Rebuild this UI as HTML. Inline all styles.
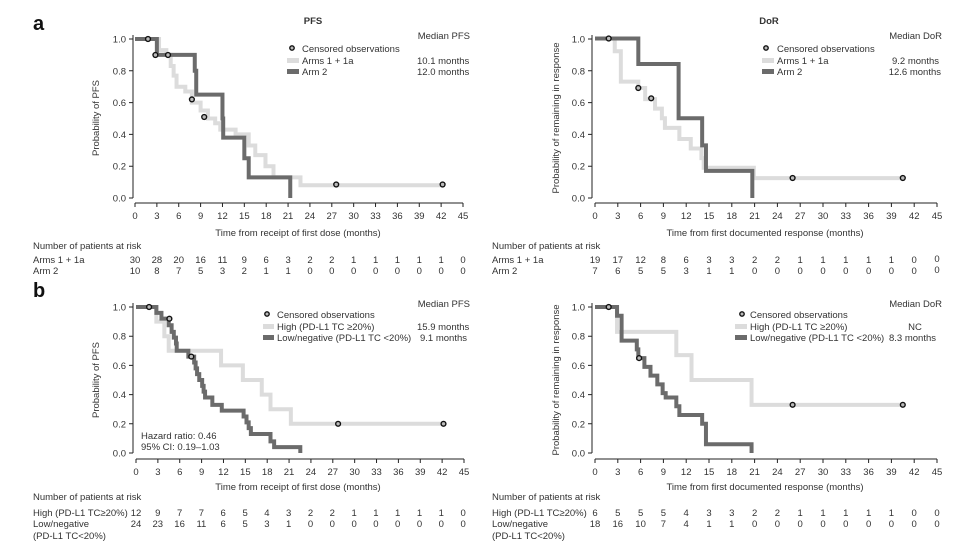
<!DOCTYPE html>
<html><head><meta charset="utf-8"><style>
html,body{margin:0;padding:0;background:#fff}
svg{display:block}
text{font-family:"Liberation Sans",sans-serif;font-size:9.5px;fill:#333}
.m{text-anchor:middle}.e{text-anchor:end}
.lt{fill:none;stroke:#dcdcdc;stroke-width:4}
.dk{fill:none;stroke:#6b6b6b;stroke-width:4}
.ax{stroke:#222;stroke-width:1;fill:none}
.c{fill:#bbb;stroke:#111;stroke-width:1.4}
</style></head><body>
<svg width="975" height="545" viewBox="0 0 975 545">
<defs>
<g id="xt">
<path class="ax" d="M0 0H328M0 0v4M21.87 0v4M43.73 0v4M65.6 0v4M87.47 0v4M109.33 0v4M131.2 0v4M153.07 0v4M174.93 0v4M196.8 0v4M218.67 0v4M240.53 0v4M262.4 0v4M284.27 0v4M306.13 0v4M328 0v4"/>
<text class="m" x="0" y="16">0</text><text class="m" x="21.87" y="16">3</text><text class="m" x="43.73" y="16">6</text><text class="m" x="65.6" y="16">9</text><text class="m" x="87.47" y="16">12</text><text class="m" x="109.33" y="16">15</text><text class="m" x="131.2" y="16">18</text><text class="m" x="153.07" y="16">21</text><text class="m" x="174.93" y="16">24</text><text class="m" x="196.8" y="16">27</text><text class="m" x="218.67" y="16">30</text><text class="m" x="240.53" y="16">33</text><text class="m" x="262.4" y="16">36</text><text class="m" x="284.27" y="16">39</text><text class="m" x="306.13" y="16">42</text><text class="m" x="328" y="16">45</text>
</g>
<g id="xtr">
<path class="ax" d="M0 0H342M0 0v4M22.8 0v4M45.6 0v4M68.4 0v4M91.2 0v4M114 0v4M136.8 0v4M159.6 0v4M182.4 0v4M205.2 0v4M228 0v4M250.8 0v4M273.6 0v4M296.4 0v4M319.2 0v4M342 0v4"/>
<text class="m" x="0" y="16">0</text><text class="m" x="22.8" y="16">3</text><text class="m" x="45.6" y="16">6</text><text class="m" x="68.4" y="16">9</text><text class="m" x="91.2" y="16">12</text><text class="m" x="114" y="16">15</text><text class="m" x="136.8" y="16">18</text><text class="m" x="159.6" y="16">21</text><text class="m" x="182.4" y="16">24</text><text class="m" x="205.2" y="16">27</text><text class="m" x="228" y="16">30</text><text class="m" x="250.8" y="16">33</text><text class="m" x="273.6" y="16">36</text><text class="m" x="296.4" y="16">39</text><text class="m" x="319.2" y="16">42</text><text class="m" x="342" y="16">45</text>
</g>
<g id="yt1">
<path class="ax" d="M0 0V-163M0 0h-4M0 -31.8h-4M0 -63.6h-4M0 -95.4h-4M0 -127.2h-4M0 -159h-4"/>
<text class="e" x="-7" y="3.5">0.0</text><text class="e" x="-7" y="-28.3">0.2</text><text class="e" x="-7" y="-60.1">0.4</text><text class="e" x="-7" y="-91.9">0.6</text><text class="e" x="-7" y="-123.7">0.8</text><text class="e" x="-7" y="-155.5">1.0</text>
</g>
<g id="yt2">
<path class="ax" d="M0 0V-150M0 0h-4M0 -29.2h-4M0 -58.4h-4M0 -87.6h-4M0 -116.8h-4M0 -146h-4"/>
<text class="e" x="-7" y="3.5">0.0</text><text class="e" x="-7" y="-25.7">0.2</text><text class="e" x="-7" y="-54.9">0.4</text><text class="e" x="-7" y="-84.1">0.6</text><text class="e" x="-7" y="-113.3">0.8</text><text class="e" x="-7" y="-142.5">1.0</text>
</g>
</defs>

<text x="33" y="30" style="font-size:20px;font-weight:bold;fill:#111">a</text>
<text x="33" y="297" style="font-size:20px;font-weight:bold;fill:#111">b</text>

<!-- TL -->
<text class="m" x="313" y="24" style="font-weight:bold">PFS</text>
<use href="#yt1" x="133" y="198"/>
<use href="#xt" x="135" y="203"/>
<text class="m" x="298" y="236">Time from receipt of first dose (months)</text>
<text class="m" transform="translate(99,118) rotate(-90)">Probability of PFS</text>
<g transform="translate(135,198) scale(7.289,-159)">
<path class="lt" vector-effect="non-scaling-stroke" d="M0 1H3.3V0.93H4.3V0.9H4.9V0.83H5.3V0.77H5.7V0.7H6.9V0.67H7.8V0.6H9V0.55H10V0.5H11V0.47H11.7V0.43H13.8V0.4H15.6V0.33H16.5V0.27H17.9V0.2H19V0.13H22.7V0.08H42.2"/>
<path class="dk" vector-effect="non-scaling-stroke" d="M0 1H3V0.9H8.2V0.8H8.4V0.65H12V0.5H12.1V0.38H15V0.25H15.6V0.13H21.3V0"/>
</g>
<circle class="c" cx="148" cy="39" r="2.4"/><circle class="c" cx="155.4" cy="55" r="2.4"/><circle class="c" cx="168" cy="55" r="2.4"/><circle class="c" cx="191.9" cy="99.4" r="2.4"/><circle class="c" cx="204.2" cy="117" r="2.4"/><circle class="c" cx="336.2" cy="184.5" r="2.4"/><circle class="c" cx="442.6" cy="184.5" r="2.4"/>
<text class="e" x="470" y="39">Median PFS</text>
<circle class="c" cx="292" cy="48" r="2.2"/><text x="302" y="52">Censored observations</text>
<rect x="287" y="58" width="12" height="5" fill="#dcdcdc"/><text x="302" y="64">Arms 1 + 1a</text>
<rect x="287" y="69" width="12" height="5" fill="#6b6b6b"/><text x="302" y="75">Arm 2</text>
<text x="417" y="64">10.1 months</text><text x="417" y="75">12.0 months</text>

<!-- TR -->
<text class="m" x="769" y="24" style="font-weight:bold">DoR</text>
<use href="#yt1" x="592" y="198"/>
<use href="#xtr" x="595" y="203"/>
<text class="m" x="765" y="236">Time from first documented response (months)</text>
<text class="m" transform="translate(559,118) rotate(-90)">Probability of remaining in response</text>
<g transform="translate(595,198) scale(7.6,-159.5)">
<path class="lt" vector-effect="non-scaling-stroke" d="M0 1H2.6V0.92H3.4V0.73H5.7V0.69H6.6V0.62H7.9V0.56H8.8V0.5H9.2V0.44H11.1V0.37H12.6V0.31H14V0.25H14.3V0.19H20.9V0.125H40.5"/>
<path class="dk" vector-effect="non-scaling-stroke" d="M0 1H5.7V0.84H11V0.5H14.1V0.33H14.6V0.17H20.7V0"/>
</g>
<circle class="c" cx="608.7" cy="38.5" r="2.4"/><circle class="c" cx="638.3" cy="88" r="2.4"/><circle class="c" cx="651.2" cy="98.3" r="2.4"/><circle class="c" cx="792.6" cy="178" r="2.4"/><circle class="c" cx="902.8" cy="178" r="2.4"/>
<text class="e" x="942" y="39">Median DoR</text>
<circle class="c" cx="766" cy="48" r="2.2"/><text x="777" y="52">Censored observations</text>
<rect x="762" y="58" width="12" height="5" fill="#dcdcdc"/><text x="777" y="64">Arms 1 + 1a</text>
<rect x="762" y="69" width="12" height="5" fill="#6b6b6b"/><text x="777" y="75">Arm 2</text>
<text class="e" x="939" y="64">9.2 months</text><text class="e" x="941" y="75">12.6 months</text>

<!-- BL -->
<use href="#yt2" x="133" y="453"/>
<use href="#xt" x="136" y="459"/>
<text class="m" x="298" y="490">Time from receipt of first dose (months)</text>
<text class="m" transform="translate(99,380) rotate(-90)">Probability of PFS</text>
<g transform="translate(136,453) scale(7.27,-146)">
<path class="lt" vector-effect="non-scaling-stroke" d="M0 1H2.8V0.9H3.9V0.8H4.5V0.7H11.7V0.6H14.7V0.5H17.3V0.4H18.5V0.3H21.3V0.2H42.3"/>
<path class="dk" vector-effect="non-scaling-stroke" d="M0 1H2.8V0.96H3.5V0.92H4.5V0.875H4.9V0.83H5.2V0.79H5.5V0.75H5.6V0.7H7.2V0.66H8V0.62H8.2V0.58H8.4V0.54H8.7V0.5H9.1V0.46H9.3V0.42H9.5V0.38H10.5V0.33H11.8V0.29H14.8V0.25H15.2V0.21H15.5V0.17H15.8V0.13H18.5V0.08H19V0.04H22.6V0"/>
</g>
<circle class="c" cx="149.1" cy="307" r="2.4"/><circle class="c" cx="169.4" cy="318.7" r="2.4"/><circle class="c" cx="191.3" cy="356.6" r="2.4"/><circle class="c" cx="338.1" cy="423.8" r="2.4"/><circle class="c" cx="443.5" cy="423.8" r="2.4"/>
<text class="e" x="470" y="307">Median PFS</text>
<circle class="c" cx="267" cy="314" r="2.2"/><text x="277" y="318">Censored observations</text>
<rect x="263" y="324" width="11" height="5" fill="#dcdcdc"/><text x="277" y="330">High (PD-L1 TC ≥20%)</text>
<rect x="263" y="335" width="11" height="5" fill="#6b6b6b"/><text x="277" y="341">Low/negative (PD-L1 TC &lt;20%)</text>
<text x="417" y="330">15.9 months</text><text x="420" y="341">9.1 months</text>
<text x="141" y="439">Hazard ratio: 0.46</text><text x="141" y="450">95% CI: 0.19–1.03</text>

<!-- BR -->
<use href="#yt2" x="592" y="453"/>
<use href="#xtr" x="595" y="459"/>
<text class="m" x="765" y="490">Time from first documented response (months)</text>
<text class="m" transform="translate(559,380) rotate(-90)">Probability of remaining in response</text>
<g transform="translate(595,453) scale(7.6,-146)">
<path class="lt" vector-effect="non-scaling-stroke" d="M0 1H2.9V0.83H10.7V0.67H12.7V0.5H20.6V0.33H40.5"/>
<path class="dk" vector-effect="non-scaling-stroke" d="M0 1H2.9V0.94H3.5V0.77H5.5V0.71H5.7V0.65H6.5V0.59H7.3V0.53H8.2V0.47H8.9V0.41H9.3V0.38H10.7V0.32H11.1V0.26H14.1V0.2H14.6V0.06H20.6V0"/>
</g>
<circle class="c" cx="608.7" cy="307" r="2.4"/><circle class="c" cx="639.1" cy="358.1" r="2.4"/><circle class="c" cx="792.6" cy="404.8" r="2.4"/><circle class="c" cx="902.8" cy="404.8" r="2.4"/>
<text class="e" x="942" y="307">Median DoR</text>
<circle class="c" cx="742" cy="314" r="2.2"/><text x="750" y="318">Censored observations</text>
<rect x="735" y="324" width="12" height="5" fill="#dcdcdc"/><text x="750" y="330">High (PD-L1 TC ≥20%)</text>
<rect x="735" y="335" width="12" height="5" fill="#6b6b6b"/><text x="750" y="341">Low/negative (PD-L1 TC &lt;20%)</text>
<text class="m" x="915" y="330">NC</text><text x="889" y="341">8.3 months</text>

<!-- risk tables -->
<g>
<text x="33" y="249">Number of patients at risk</text>
<text x="33" y="263">Arms 1 + 1a</text><text x="33" y="274">Arm 2</text>
<text x="492" y="249">Number of patients at risk</text>
<text x="492" y="263">Arms 1 + 1a</text><text x="492" y="274">Arm 2</text>
<text x="33" y="500">Number of patients at risk</text>
<text x="33" y="516">High (PD-L1 TC≥20%)</text><text x="33" y="527">Low/negative</text><text x="33" y="539">(PD-L1 TC&lt;20%)</text>
<text x="492" y="500">Number of patients at risk</text>
<text x="492" y="516">High (PD-L1 TC≥20%)</text><text x="492" y="527">Low/negative</text><text x="492" y="539">(PD-L1 TC&lt;20%)</text>
</g>
<g class="m" style="text-anchor:middle">
<!-- TL row1 -->
<text x="135" y="263" class="m">30</text><text x="156.9" y="263" class="m">28</text><text x="178.7" y="263" class="m">20</text><text x="200.6" y="263" class="m">16</text><text x="222.5" y="263" class="m">11</text><text x="244.3" y="263" class="m">9</text><text x="266.2" y="263" class="m">6</text><text x="288.1" y="263" class="m">3</text><text x="310" y="263" class="m">2</text><text x="331.8" y="263" class="m">2</text><text x="353.7" y="263" class="m">1</text><text x="375.6" y="263" class="m">1</text><text x="397.4" y="263" class="m">1</text><text x="419.3" y="263" class="m">1</text><text x="441.2" y="263" class="m">1</text><text x="463" y="263" class="m">0</text>
<text x="135" y="274" class="m">10</text><text x="156.9" y="274" class="m">8</text><text x="178.7" y="274" class="m">7</text><text x="200.6" y="274" class="m">5</text><text x="222.5" y="274" class="m">3</text><text x="244.3" y="274" class="m">2</text><text x="266.2" y="274" class="m">1</text><text x="288.1" y="274" class="m">1</text><text x="310" y="274" class="m">0</text><text x="331.8" y="274" class="m">0</text><text x="353.7" y="274" class="m">0</text><text x="375.6" y="274" class="m">0</text><text x="397.4" y="274" class="m">0</text><text x="419.3" y="274" class="m">0</text><text x="441.2" y="274" class="m">0</text><text x="463" y="274" class="m">0</text>
<!-- TR -->
<text x="595" y="263" class="m">19</text><text x="617.8" y="263" class="m">17</text><text x="640.6" y="263" class="m">12</text><text x="663.4" y="263" class="m">8</text><text x="686.2" y="263" class="m">6</text><text x="709" y="263" class="m">3</text><text x="731.8" y="263" class="m">3</text><text x="754.6" y="263" class="m">2</text><text x="777.4" y="263" class="m">2</text><text x="800.2" y="263" class="m">1</text><text x="823" y="263" class="m">1</text><text x="845.8" y="263" class="m">1</text><text x="868.6" y="263" class="m">1</text><text x="891.4" y="263" class="m">1</text><text x="914.2" y="263" class="m">0</text><text x="937" y="262" class="m">0</text>
<text x="595" y="274" class="m">7</text><text x="617.8" y="274" class="m">6</text><text x="640.6" y="274" class="m">5</text><text x="663.4" y="274" class="m">5</text><text x="686.2" y="274" class="m">3</text><text x="709" y="274" class="m">1</text><text x="731.8" y="274" class="m">1</text><text x="754.6" y="274" class="m">0</text><text x="777.4" y="274" class="m">0</text><text x="800.2" y="274" class="m">0</text><text x="823" y="274" class="m">0</text><text x="845.8" y="274" class="m">0</text><text x="868.6" y="274" class="m">0</text><text x="891.4" y="274" class="m">0</text><text x="914.2" y="274" class="m">0</text><text x="937" y="273" class="m">0</text>
<!-- BL -->
<text x="136" y="516" class="m">12</text><text x="157.8" y="516" class="m">9</text><text x="179.6" y="516" class="m">7</text><text x="201.4" y="516" class="m">7</text><text x="223.2" y="516" class="m">6</text><text x="245.1" y="516" class="m">5</text><text x="266.9" y="516" class="m">4</text><text x="288.7" y="516" class="m">3</text><text x="310.5" y="516" class="m">2</text><text x="332.3" y="516" class="m">2</text><text x="354.1" y="516" class="m">1</text><text x="375.9" y="516" class="m">1</text><text x="397.7" y="516" class="m">1</text><text x="419.5" y="516" class="m">1</text><text x="441.3" y="516" class="m">1</text><text x="463.2" y="516" class="m">0</text>
<text x="136" y="527" class="m">24</text><text x="157.8" y="527" class="m">23</text><text x="179.6" y="527" class="m">16</text><text x="201.4" y="527" class="m">11</text><text x="223.2" y="527" class="m">6</text><text x="245.1" y="527" class="m">5</text><text x="266.9" y="527" class="m">3</text><text x="288.7" y="527" class="m">1</text><text x="310.5" y="527" class="m">0</text><text x="332.3" y="527" class="m">0</text><text x="354.1" y="527" class="m">0</text><text x="375.9" y="527" class="m">0</text><text x="397.7" y="527" class="m">0</text><text x="419.5" y="527" class="m">0</text><text x="441.3" y="527" class="m">0</text><text x="463.2" y="527" class="m">0</text>
<!-- BR -->
<text x="595" y="516" class="m">6</text><text x="617.8" y="516" class="m">5</text><text x="640.6" y="516" class="m">5</text><text x="663.4" y="516" class="m">5</text><text x="686.2" y="516" class="m">4</text><text x="709" y="516" class="m">3</text><text x="731.8" y="516" class="m">3</text><text x="754.6" y="516" class="m">2</text><text x="777.4" y="516" class="m">2</text><text x="800.2" y="516" class="m">1</text><text x="823" y="516" class="m">1</text><text x="845.8" y="516" class="m">1</text><text x="868.6" y="516" class="m">1</text><text x="891.4" y="516" class="m">1</text><text x="914.2" y="516" class="m">0</text><text x="937" y="516" class="m">0</text>
<text x="595" y="527" class="m">18</text><text x="617.8" y="527" class="m">16</text><text x="640.6" y="527" class="m">10</text><text x="663.4" y="527" class="m">7</text><text x="686.2" y="527" class="m">4</text><text x="709" y="527" class="m">1</text><text x="731.8" y="527" class="m">1</text><text x="754.6" y="527" class="m">0</text><text x="777.4" y="527" class="m">0</text><text x="800.2" y="527" class="m">0</text><text x="823" y="527" class="m">0</text><text x="845.8" y="527" class="m">0</text><text x="868.6" y="527" class="m">0</text><text x="891.4" y="527" class="m">0</text><text x="914.2" y="527" class="m">0</text><text x="937" y="527" class="m">0</text>
</g>
</svg>
</body></html>
